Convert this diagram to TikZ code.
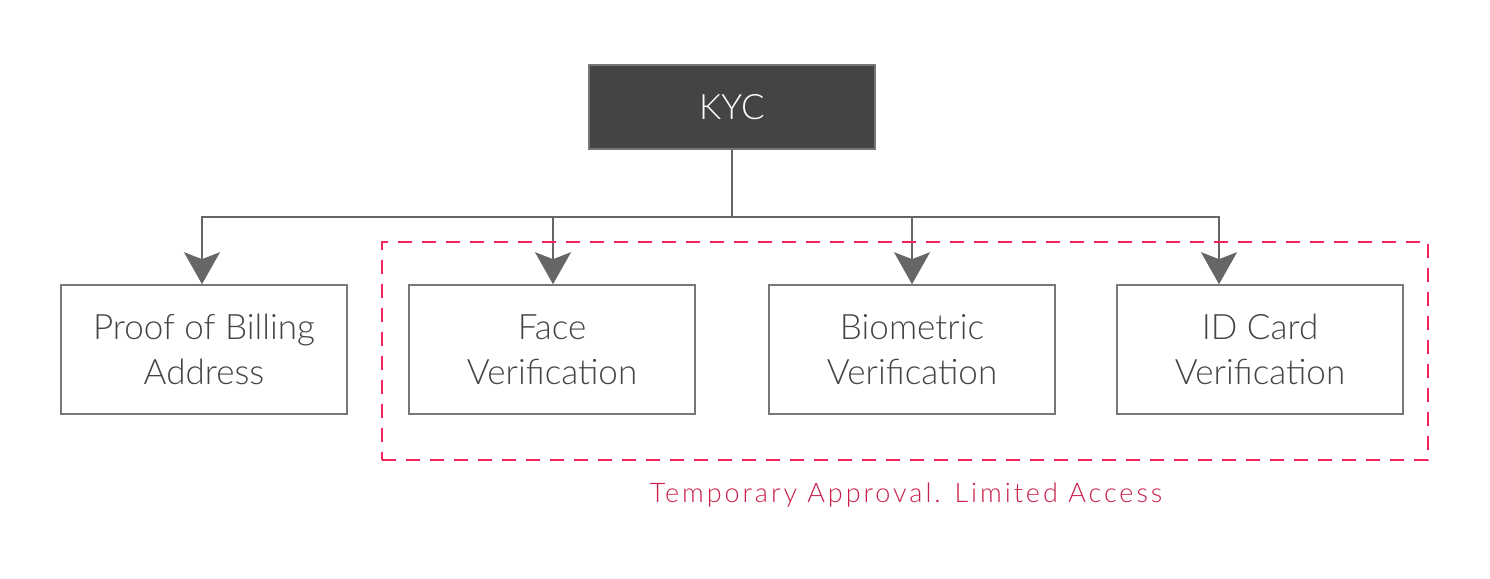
\documentclass[tikz,border=0pt]{standalone}
\usepackage{fontspec}
\setmainfont{Lato Light}
\newfontfamily\notefont[LetterSpace=11]{Lato Light}
\usetikzlibrary{arrows.meta}
\definecolor{boxline}{HTML}{777777}
\definecolor{darkfill}{HTML}{444444}
\definecolor{txt}{HTML}{444444}
\definecolor{pinkline}{HTML}{F0245A}
\definecolor{pinktxt}{HTML}{C8204A}
\definecolor{conn}{HTML}{666666}
\tikzset{
  x=1pt,y=-1pt,
  leaf/.style={draw=boxline,line width=1.6pt,minimum width=286pt,minimum height=129pt,inner sep=0pt,
    align=center,text=txt,font=\fontsize{35}{45}\selectfont},
  root/.style={draw=boxline,line width=1.6pt,fill=darkfill,minimum width=286pt,minimum height=84pt,inner sep=0pt,
    text=white,font=\fontsize{35}{40}\selectfont},
  conline/.style={draw=conn,line width=1.6pt},
  conarrow/.style={conline,-{Stealth[length=32pt,width=36pt,inset=7pt]}},
  zone/.style={draw=pinkline,line width=1.6pt,dash pattern=on 14pt off 10pt}
}
\begin{document}
\begin{tikzpicture}
\useasboundingbox (0,0) rectangle (1490,578);
\node[root] (kyc) at (732,107) {KYC};
\node[leaf] (proof) at (204,349.5) {Proof of Billing\\Address};
\node[leaf] (face) at (552,349.5) {Face\\Verification};
\node[leaf] (bio) at (912,349.5) {Biometric\\Verification};
\node[leaf] (id) at (1260,349.5) {ID Card\\Verification};
\coordinate (hub) at (732,217);
\draw[conline] (kyc.south) -- (hub);
\draw[conarrow] (hub) -| (proof.north -| 202,0);
\draw[conarrow] (hub) -| (face.north -| 553,0);
\draw[conarrow] (hub) -| (bio.north);
\draw[conarrow] (hub) -| (id.north -| 1219,0);
\node[draw=none] (zonebox) at (905,351) [zone,minimum width=1046pt,minimum height=218pt] {};
\node[text=pinktxt,font=\notefont\fontsize{27}{30}\selectfont] (note) at (906,495) {Temporary Approval. Limited Access};
\end{tikzpicture}
\end{document}
